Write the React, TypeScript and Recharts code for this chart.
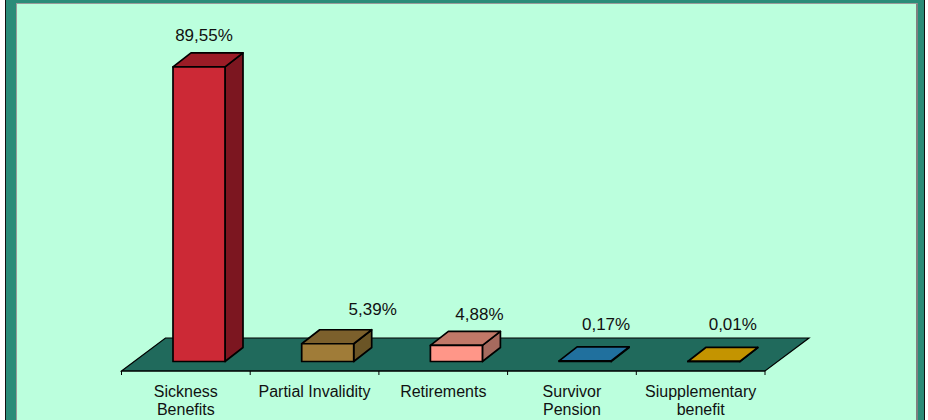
import { Bar, BarChart, Customized, LabelList, XAxis, YAxis, usePlotArea } from 'recharts';

const categories = ['Sickness\nBenefits', 'Partial Invalidity', 'Retirements', 'Survivor\nPension', 'Siupplementary\nbenefit'];
const shares = [89.55, 5.39, 4.88, 0.17, 0.01];
const shareLabels = ['89,55%', '5,39%', '4,88%', '0,17%', '0,01%'];

const rows = categories.map((name, i) => ({ name, share: shares[i], label: shareLabels[i] }));

// front, top, side
const barColors = [
  ['#cc2936', '#9b1c26', '#7c1620'],
  ['#a07c38', '#7c602c', '#6b5526'],
  ['#ff9688', '#c17868', '#a66a5e'],
  ['#20709e', '#20709e', '#184f70'],
  ['#c49400', '#c49400', '#8a6a00'],
];

// labels in the original were placed by hand, not centred on the bars
const labelNudge = [
  [5, -32],
  [45, -35],
  [23, -31],
  [21, -37],
  [19, -37],
];

const FONT = '"Liberation Sans", Arial, sans-serif';
const DEPTH_X = 18;
const DEPTH_Y = 14;
const FLOOR_X = 44;
const FLOOR_Y = 33;
const BAND = 128.7;
const BAR_SHIFT = 13.5; // bars sit towards the middle of the 3d floor, not on the band centre

function Floor() {
  const plot = usePlotArea();
  if (!plot) return null;
  const left = plot.x;
  const right = plot.x + plot.width;
  const bottom = plot.y + plot.height;
  const pts = [
    [left, bottom],
    [left + FLOOR_X, bottom - FLOOR_Y],
    [right + FLOOR_X, bottom - FLOOR_Y],
    [right, bottom],
  ];
  return <polygon points={pts.map(p => p.join(',')).join(' ')} fill="#206a5c" stroke="#000" strokeWidth={1.2} />;
}

function Box3D(props: any) {
  const { y, width, height, index } = props;
  const x = props.x + BAR_SHIFT;
  const [front, top, side] = barColors[index];
  const r = x + width;
  const b = y + height;
  return (
    <g stroke="#000" strokeWidth={1.7} strokeLinejoin="round">
      <polygon points={`${r},${y} ${r + DEPTH_X},${y - DEPTH_Y} ${r + DEPTH_X},${b - DEPTH_Y} ${r},${b}`} fill={side} />
      <polygon points={`${x},${y} ${x + DEPTH_X},${y - DEPTH_Y} ${r + DEPTH_X},${y - DEPTH_Y} ${r},${y}`} fill={top} />
      <rect x={x} y={y} width={width} height={height} fill={front} />
    </g>
  );
}

function ShareLabel(props: any) {
  const { x, y, width, index, value } = props;
  const [dx, dy] = labelNudge[index];
  return (
    <text x={x + BAR_SHIFT + width / 2 + dx} y={y + dy + 6} textAnchor="middle" fontFamily={FONT} fontSize={17} fill="#111">
      {value}
    </text>
  );
}

function CategoryTick(props: any) {
  const { x, y, payload, index } = props;
  const lines = String(payload.value).split('\n');
  return (
    <g>
      <line x1={x - BAND / 2} y1={y - 8} x2={x - BAND / 2} y2={y - 4} stroke="#000" />
      {index === categories.length - 1 && (
        <line x1={x + BAND / 2} y1={y - 8} x2={x + BAND / 2} y2={y - 4} stroke="#000" />
      )}
      {lines.map((line, i) => (
        <text key={line} x={x} y={396.5 + i * 18} textAnchor="middle" fontFamily={FONT} fontSize={16} fill="#111">
          {line}
        </text>
      ))}
    </g>
  );
}

export default function App() {
  return (
    <div style={{ position: 'absolute', left: 0, top: 0, width: 928, height: 420, background: '#fff', overflow: 'hidden' }}>
      <div style={{ position: 'absolute', left: 5, top: 0, width: 920, height: 420, background: '#2a8c78', borderLeft: '1px solid #111', borderRight: '1px solid #111', boxSizing: 'border-box' }} />
      <div style={{ position: 'absolute', left: 16, top: 3, width: 902, height: 417, background: '#bbffdd', borderLeft: '1px solid #999', borderTop: '1px solid #999', borderRight: '2px solid #808080', boxSizing: 'border-box' }} />
      <div style={{ position: 'absolute', left: 0, top: 0 }}>
        <BarChart width={928} height={420} data={rows} margin={{ top: 32.5, right: 163, bottom: 0, left: 121.5 }} barSize={52}>
          <Customized component={Floor} />
          <XAxis
            dataKey="name"
            height={49}
            interval={0}
            tick={<CategoryTick />}
            tickLine={false}
            axisLine={{ stroke: '#000', strokeWidth: 1.2 }}
          />
          <YAxis hide domain={[-2.89, 100]} />
          <Bar dataKey="share" shape={<Box3D />} isAnimationActive={false}>
            <LabelList dataKey="label" content={<ShareLabel />} />
          </Bar>
        </BarChart>
      </div>
    </div>
  );
}
